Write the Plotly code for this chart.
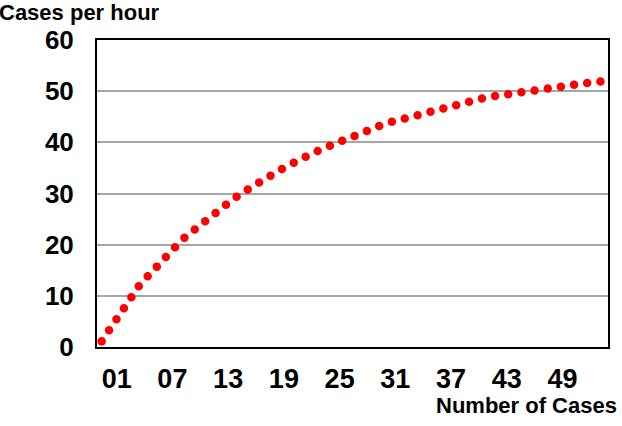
import plotly.graph_objects as go

# Data
cases = list(range(1, 56))
cases_per_hour = [
    1.1, 3.9, 6.8, 9.5, 11.9, 13.9, 16.0, 17.9, 19.7, 21.5,
    23.0, 24.6, 26.0, 27.4, 28.7, 30.0, 31.2, 32.3, 33.4, 34.4,
    35.4, 36.4, 37.3, 38.1, 38.9, 39.7, 40.5, 41.3, 42.0, 42.6,
    43.3, 43.9, 44.4, 45.0, 45.5, 46.0, 46.5, 47.0, 47.4, 47.8,
    48.2, 48.6, 48.95, 49.2, 49.6, 49.9, 50.2, 50.5, 50.7, 51.1,
    51.2, 51.4, 51.6, 51.8, 51.9,
]
x_tick_vals = [1, 7, 13, 19, 25, 31, 37, 43, 49]
x_tick_text = ["01", "07", "13", "19", "25", "31", "37", "43", "49"]
y_tick_vals = [0, 10, 20, 30, 40, 50, 60]

FONT = "Liberation Sans, Arial, sans-serif"

fig = go.Figure()
fig.add_trace(go.Scatter(
    x=cases, y=cases_per_hour, mode="lines",
    line=dict(color="#FF0000", width=8.5, dash="0px,13.3px"),
    hoverinfo="skip", showlegend=False,
))

fig.update_layout(
    width=622, height=426,
    margin=dict(l=97, r=12, t=40, b=79),
    paper_bgcolor="white", plot_bgcolor="white",
    font=dict(family=FONT, color="black"),
    xaxis=dict(
        range=[0.5, 55.5], tickmode="array", tickvals=x_tick_vals, ticktext=x_tick_text,
        tickfont=dict(size=27, family=FONT, weight="bold"),
        showgrid=False, zeroline=False,
        showline=True, linecolor="black", linewidth=2, mirror=True,
        ticks="", ticklabelstandoff=7, ticklabelshift=15,
    ),
    yaxis=dict(
        range=[0, 60], tickmode="array", tickvals=y_tick_vals,
        tickfont=dict(size=26, family=FONT, weight="bold"),
        showgrid=True, gridcolor="#A6A6A6", gridwidth=2, zeroline=False,
        showline=True, linecolor="black", linewidth=2, mirror=True,
        ticks="", ticklabelstandoff=16,
    ),
    annotations=[
        dict(text="Cases per hour", xref="paper", yref="paper",
             x=(162 - 97) / 513, y=(347 - 13) / 307, xanchor="right", yanchor="middle",
             showarrow=False, font=dict(size=22, family=FONT, weight="bold")),
        dict(text="Number of Cases", xref="paper", yref="paper",
             x=(621 - 97) / 513, y=(347 - 405) / 307, xanchor="right", yanchor="middle",
             showarrow=False, font=dict(size=22, family=FONT, weight="bold")),
    ],
)

post = """
var s = document.createElement('style');
s.textContent = '.scatterlayer .js-line { stroke-linecap: round !important; }';
document.head.appendChild(s);
"""
fig.write_html("out.html", post_script=post)
